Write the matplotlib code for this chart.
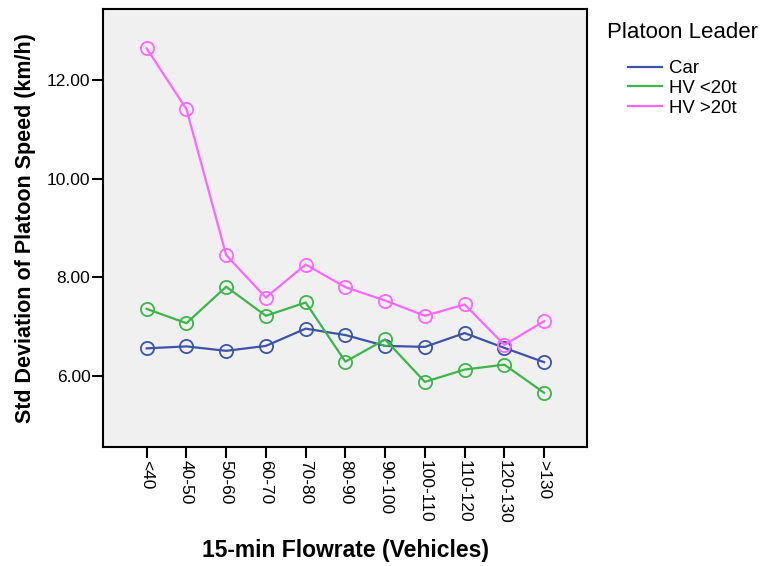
import numpy as np
import matplotlib.pyplot as plt
from matplotlib.lines import Line2D

plt.rcParams['font.family'] = ['Liberation Sans', 'DejaVu Sans']

# flowrate bins
flow_bins = ['<40', '40-50', '50-60', '60-70', '70-80', '80-90', '90-100',
             '100-110', '110-120', '120-130', '>130']

# std deviation of platoon speed (km/h) per leader type
car = [6.56, 6.60, 6.51, 6.61, 6.96, 6.83, 6.61, 6.59, 6.87, 6.57, 6.28]
hv_lt20 = [7.36, 7.07, 7.81, 7.22, 7.49, 6.29, 6.74, 5.88, 6.13, 6.23, 5.66]
hv_gt20 = [12.64, 11.41, 8.45, 7.59, 8.26, 7.80, 7.53, 7.22, 7.45, 6.63, 7.11]

series_names = ['Car', 'HV <20t', 'HV >20t']
series_colors = ['#3b54a5', '#3cb54a', '#ff66ff']

fig = plt.figure(figsize=(7.6, 5.66), dpi=100)
ax = fig.add_axes([0.1355, 0.2102, 0.6369, 0.7744])
ax.set_facecolor('#f0f0f0')

x = np.arange(len(flow_bins))
for vals, name, col in zip([car, hv_lt20, hv_gt20], series_names, series_colors):
    ax.plot(x, vals, color=col, lw=1.6, marker='o', ms=9.5,
            mfc='none', mec=col, mew=1.3, label=name)

ax.set_xlim(-1.1, 11.08)
ax.set_ylim(4.56, 13.445)
ax.set_xticks(x)
ax.set_xticklabels(flow_bins, rotation=270, fontsize=12.5, va='top', ha='center')
ax.set_yticks([6, 8, 10, 12])
ax.set_yticklabels(['6.00', '8.00', '10.00', '12.00'], fontsize=12.5)
ax.tick_params(direction='out', length=8, width=1.5, color='black', pad=1)

for sp in ax.spines.values():
    sp.set_linewidth(1.5)
    sp.set_color('black')

ax.set_xlabel('15-min Flowrate (Vehicles)', fontsize=16.5, fontweight='bold', va='center')
ax.xaxis.set_label_coords(0.5, -0.235)
ax.set_ylabel('Std Deviation of Platoon Speed (km/h)', fontsize=15.5, fontweight='bold', va='center')
ax.yaxis.set_label_coords(-0.161, 0.5)

# legend: title on its own, entries indented beneath
fig.text(607 / 760, 1 - 32 / 566, 'Platoon Leader', fontsize=16, va='center', ha='left')
handles = [Line2D([0], [0], color=c, lw=1.6) for c in series_colors]
fig.legend(handles, series_names, loc='upper left',
           bbox_to_anchor=(628 / 760, 1 - 60 / 566), frameon=False,
           fontsize=13.4, handlelength=1.85, handletextpad=0.35,
           labelspacing=0.15, borderpad=0, borderaxespad=0)

fig.savefig('out.png', dpi=100)
